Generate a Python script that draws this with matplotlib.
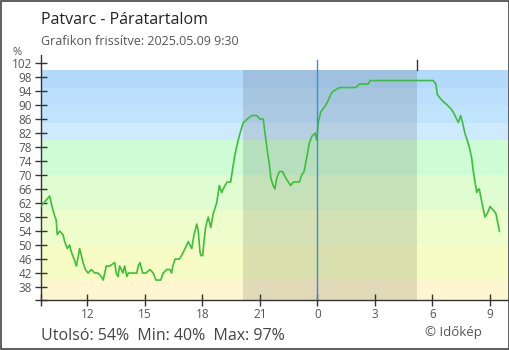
import matplotlib
matplotlib.use("Agg")
import matplotlib.pyplot as plt
from matplotlib.patches import Rectangle

plt.rcParams['font.family'] = ['Open Sans', 'DejaVu Sans']

# ---- data (hours since previous midnight; values in %) ----
hours = [9.57, 10.04, 10.16, 10.26, 10.38, 10.43, 10.56, 10.73, 10.82, 10.96,
         11.08, 11.17, 11.31, 11.43, 11.60, 11.69, 11.78, 11.90, 12.04, 12.21,
         12.39, 12.56, 12.73, 12.83, 12.91, 12.99, 13.17, 13.43, 13.51, 13.60,
         13.69, 13.86, 13.95, 14.06, 14.14, 14.32, 14.58, 14.66, 14.75, 14.89,
         15.06, 15.27, 15.44, 15.58, 15.83, 15.96, 16.14, 16.31, 16.40, 16.46,
         16.58, 16.80, 16.92, 17.10, 17.27, 17.45, 17.57, 17.62, 17.71, 17.79,
         17.88, 17.93, 18.02, 18.09, 18.17, 18.31, 18.44, 18.57, 18.75, 18.89,
         19.01, 19.18, 19.30, 19.48, 19.59, 19.71, 19.83, 19.97, 20.14, 20.35,
         20.58, 20.84, 21.01, 21.18, 21.27, 21.39, 21.50, 21.58, 21.70, 21.79,
         21.88, 22.02, 22.19, 22.37, 22.49, 22.61, 22.75, 23.06, 23.19, 23.31,
         23.45, 23.58, 23.71, 23.88, 23.97, 24.05, 24.18, 24.31, 24.44, 24.54,
         24.70, 24.83, 25.18, 26.02, 26.19, 26.66, 26.75, 30.05, 30.19, 30.26,
         30.40, 30.57, 30.78, 30.96, 31.09, 31.27, 31.36, 31.48, 31.58, 31.70,
         31.82, 31.93, 32.05, 32.14, 32.23, 32.32, 32.40, 32.45, 32.52, 32.63,
         32.75, 32.87, 33.01, 33.18, 33.32, 33.39, 33.50]
humidity = [61, 64, 61, 59, 57, 53, 54, 53, 51, 49,
            50, 48, 46, 44, 49, 47, 45, 43, 42, 43,
            42, 42, 41, 40, 42, 44, 44, 45, 42, 41,
            44, 42, 44, 41, 42, 42, 42, 44, 45, 42,
            42, 43, 42, 40, 40, 42, 43, 43, 42, 44,
            46, 46, 47, 49, 51, 49, 53, 54, 56, 54,
            48, 47, 47, 51, 55, 58, 55, 59, 62, 67,
            65, 67, 68, 68, 72, 76, 79, 82, 85, 86,
            87, 87, 86, 86, 82, 77, 73, 69, 67, 66,
            69, 71, 71, 69, 68, 67, 68, 68, 70, 71,
            75, 79, 81, 82, 80, 85, 88, 89, 90, 91,
            93, 94, 95, 95, 96, 96, 97, 97, 96, 93,
            92, 91, 90, 89, 88, 86, 85, 87, 85, 82,
            80, 78, 75, 71, 68, 65, 66, 66, 64, 61,
            58, 59, 61, 60, 59, 57, 54]

band_edges = [0, 40, 50, 60, 70, 80, 85, 90, 95, 100]
band_colors = ['#fdf6d0', '#f6fcc3', '#eefdcc', '#dffdd0', '#cdfcd5',
               '#cdeafe', '#c1e4fd', '#bbdffc', '#b3d9fb']
sunset, sunrise = 20.12, 29.2
midnight = 24
xtick_pos = [12, 15, 18, 21, 24, 27, 30, 33]
xtick_lbl = ['12', '15', '18', '21', '0', '3', '6', '9']
ytick_pos = list(range(38, 103, 4))

title = 'Patvarc - Páratartalom'
subtitle = 'Grafikon frissítve: 2025.05.09 9:30'
stats = 'Utolsó: 54%  Min: 40%  Max: 97%'

# ---- figure ----
fig = plt.figure(figsize=(5.1, 3.5), dpi=100)
fig.patch.set_facecolor('white')
fig.patches.append(Rectangle((0.001, 0.0015), 0.997, 0.996, transform=fig.transFigure,
                             fill=False, edgecolor='#444444', linewidth=1.2))

ax = fig.add_axes([41/510, 50/350, 467/510, 245/350])
ymin, ymax = 34.3, 104.3
xmin, xmax = 9.585, 33.95
ax.set_xlim(xmin, xmax)
ax.set_ylim(ymin, ymax)

for lo, hi, c in zip(band_edges[:-1], band_edges[1:], band_colors):
    ax.axhspan(max(lo, ymin), hi, color=c, linewidth=0, zorder=0)

ax.fill_between([sunset, sunrise], ymin, 100, color='black', alpha=0.11,
                linewidth=0, zorder=1)
ax.plot([sunrise, sunrise], [100, 102.9], color='#333333', linewidth=1.0, zorder=2)
ax.plot([midnight, midnight], [ymin, 102.9], color='#3a8fd4', linewidth=1.0, zorder=4)

ax.plot(hours, humidity, color='#3cbf3c', linewidth=1.2, zorder=3)

for s in ['top', 'right']:
    ax.spines[s].set_visible(False)
for s in ['left', 'bottom']:
    ax.spines[s].set_color('#333333')
    ax.spines[s].set_linewidth(1.0)

ax.set_xticks([xmin] + xtick_pos)
ax.set_xticklabels([''] + xtick_lbl)
ax.set_yticks([ymin] + ytick_pos)
ax.set_yticklabels([''] + [str(v) for v in ytick_pos])
ax.tick_params(axis='both', direction='inout', length=9, width=1.0, color='#333333',
               labelcolor='#555555', labelsize=8.5)
ax.tick_params(axis='y', pad=2)
ax.tick_params(axis='x', pad=1)

fig.text(41/510, 1 - 24/350, title, fontsize=11.5, color='#222222', ha='left', va='baseline')
fig.text(41/510, 1 - 45/350, subtitle, fontsize=9, color='#555555', ha='left', va='baseline')
fig.text(17/510, 1 - 55/350, '%', fontsize=8, color='#555555', ha='center', va='baseline')
fig.text(41/510, 1 - 339.5/350, stats, fontsize=11.5, color='#444444', ha='left', va='baseline')
fig.text(482/510, 1 - 336/350, '© Időkép', fontsize=9.5, color='#555555', ha='right', va='baseline')

fig.savefig('out.png', dpi=100)
